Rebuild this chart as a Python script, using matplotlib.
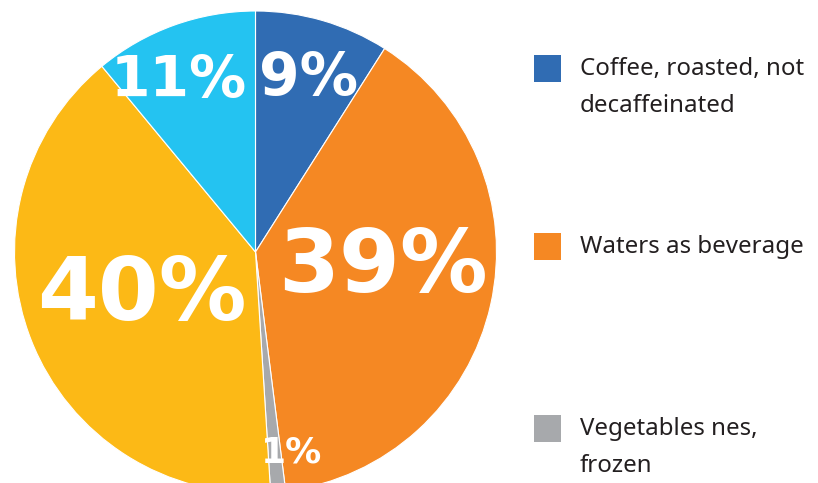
import matplotlib.pyplot as plt
from matplotlib.patches import Rectangle

# data
products = ["Coffee, roasted, not\ndecaffeinated", "Waters as beverage",
            "Vegetables nes,\nfrozen", "Other 1", "Other 2"]
shares = [9, 39, 1, 40, 11]
colors = ["#306cb3", "#f58823", "#a7a9ac", "#fcb916", "#24c3f1"]
legend_count = 3

# label placement (data coords of the pie axes) and sizes
label_xy = [(0.22, 0.72), (0.53, -0.067), (0.15, -0.83), (-0.47, -0.182), (-0.32, 0.708)]
label_size = [42, 63, 26, 63, 41]

fig = plt.figure(figsize=(8.18, 4.83), dpi=100)
W, H = 818, 483
cx, cy, r = 255.5, 483 - 252, 241
ax = fig.add_axes([(cx - r) / W, (cy - r) / H, 2 * r / W, 2 * r / H])

wedges, _ = ax.pie(shares, colors=colors, startangle=90, counterclock=False,
                   radius=1, wedgeprops=dict(edgecolor="white", linewidth=0.8))
ax.set_xlim(-1, 1)
ax.set_ylim(-1, 1)
ax.set_aspect("equal")
ax.axis("off")

for v, (x, y), s in zip(shares, label_xy, label_size):
    ax.text(x, y, f"{v}%", color="white", fontsize=s, fontweight="bold",
            family="DejaVu Sans", ha="center", va="center")

# legend drawn by hand (only first three entries shown)
sq_top = [55, 233, 415]
for i in range(legend_count):
    fig.patches.append(Rectangle((534 / W, (H - sq_top[i] - 27) / H), 27 / W, 27 / H,
                                 transform=fig.transFigure,
                                 facecolor=wedges[i].get_facecolor(), edgecolor="none"))
    base = sq_top[i] + 20
    for k, line in enumerate(products[i].split("\n")):
        fig.text(580 / W, (H - base - 37 * k) / H, line, fontsize=17.3,
                 color="#231f20", family="Noto Sans", va="baseline", ha="left")

fig.savefig("out.png", dpi=100)
